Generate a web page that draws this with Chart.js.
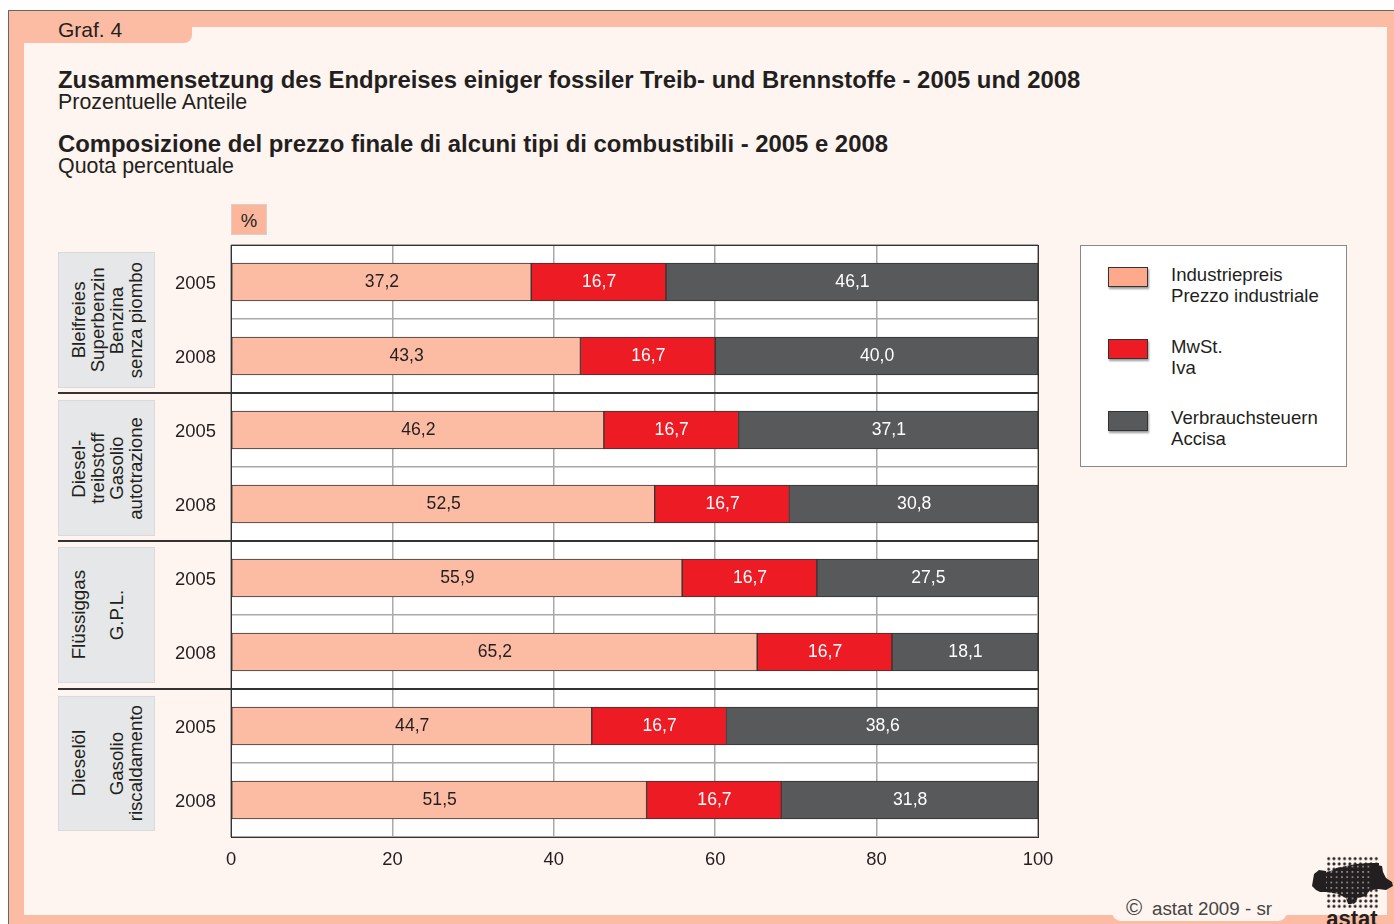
<!DOCTYPE html>
<html><head><meta charset="utf-8">
<script src="https://cdn.jsdelivr.net/npm/chart.js@4"></script>
<style>
html,body{margin:0;padding:0;background:#fff;width:1394px;height:924px;overflow:hidden;font-family:"Liberation Sans",Arial,sans-serif;color:#231f20}
.a{position:absolute}
#frame{left:8px;top:10px;width:1386px;height:914px;background:#fcbca4;border-left:1px solid #666;border-top:1px solid #666;box-sizing:border-box}
#cream{left:24px;top:27px;width:1363px;height:888px;background:#fff5f0}
#tab{left:24px;top:27px;width:168px;height:16px;background:#fcbca4;border-bottom-right-radius:8px}
#crtab{left:1112px;top:910px;width:175px;height:11px;background:#fff5f0;border-radius:0 0 9px 9px}
.t{white-space:nowrap;line-height:1}
.h{font-weight:bold;font-size:23.87px}
.s{font-size:21.4px}
.g{left:58px;width:97px;background:#e6e7e8;border:1px solid #d9dadc;box-sizing:border-box;display:flex;align-items:center;justify-content:center}
.g div{writing-mode:vertical-rl;transform:rotate(180deg);font-size:18.7px;line-height:19px;text-align:center;white-space:pre}
#pct{left:231px;top:204px;width:36px;height:31px;background:#fcb69c;border:1px solid #d9d0cc;box-sizing:border-box;text-align:center;font-size:18.5px;line-height:32px}
#legend{left:1080px;top:245px;width:267px;height:222px;background:#fff;border:1px solid #888;box-sizing:border-box}
.sw{left:1108px;width:40px;height:20px;border:1px solid #333;box-sizing:border-box;box-shadow:1px 2px 2px #999}
.lt{left:1171px;font-size:18.6px;line-height:21px;white-space:pre}
canvas{position:absolute;left:0;top:0}
</style></head>
<body>
<div class="a" id="frame"></div>
<div class="a" id="cream"></div>
<div class="a" id="tab"></div>
<div class="a" id="crtab"></div>
<div class="a t" style="left:58px;top:19px;font-size:21px">Graf. 4</div>
<div class="a t h" style="left:58px;top:68px">Zusammensetzung des Endpreises einiger fossiler Treib- und Brennstoffe - 2005 und 2008</div>
<div class="a t s" style="left:58px;top:92px">Prozentuelle Anteile</div>
<div class="a t h" style="left:58px;top:132px">Composizione del prezzo finale di alcuni tipi di combustibili - 2005 e 2008</div>
<div class="a t s" style="left:58px;top:156px">Quota percentuale</div>
<div class="a" id="pct">%</div>
<div class="a g" style="top:252px;height:136px"><div>Bleifreies
Superbenzin
Benzina
senza piombo</div></div>
<div class="a g" style="top:400px;height:136px"><div>Diesel-
treibstoff
Gasolio
autotrazione</div></div>
<div class="a g" style="top:547px;height:136px"><div>Flüssiggas
 
G.P.L.
 </div></div>
<div class="a g" style="top:696px;height:135px"><div>Dieselöl
 
Gasolio
riscaldamento</div></div>
<div class="a" id="legend"></div>
<div class="a sw" style="top:267px;background:#ffa98c"></div>
<div class="a lt" style="top:264px">Industriepreis
Prezzo industriale</div>
<div class="a sw" style="top:339px;background:#ed1c24"></div>
<div class="a lt" style="top:336px">MwSt.
Iva</div>
<div class="a sw" style="top:411px;background:#58595b"></div>
<div class="a lt" style="top:407px">Verbrauchsteuern
Accisa</div>
<div class="a t" style="left:1126px;top:897px;font-size:22px;color:#444">©</div>
<div class="a t" style="left:1152px;top:900px;font-size:18.8px;color:#444">astat 2009 - sr</div>
<svg class="a" style="left:1310px;top:854px" width="84" height="70" viewBox="0 0 84 70">
<defs>
<pattern id="d" width="5.3" height="5.3" patternUnits="userSpaceOnUse" x="16" y="2"><circle cx="2.65" cy="2.65" r="1.5" fill="#231f20"/></pattern>
<pattern id="b" width="5.3" height="5.3" patternUnits="userSpaceOnUse" x="16" y="2"><circle cx="2.65" cy="2.65" r="3" fill="#231f20"/></pattern>
</defs>
<rect x="16" y="2" width="53" height="53" fill="url(#d)"/>
<path d="M26 14 L46 10 L60 9 L69 9 L69 34 L60 36 L56 42 L48 44 L44 50 L38 50 L36 44 L28 40 L16 38 L16 18 L24 16Z" fill="url(#b)"/>
<path d="M16 17 L9 16 L4 20 L3 26 L2 32 L6 36 L10 38 L16 38Z" fill="#231f20"/>
<path d="M62 10 L72 12 L73 18 L76 24 L82 28 L83 32 L76 36 L68 35 L62 36Z" fill="#231f20"/>
<text x="42" y="72" text-anchor="middle" font-family="Liberation Sans" font-weight="bold" font-size="22" fill="#231f20">astat</text>
</svg>
<canvas id="chart" width="1394" height="924"></canvas>
<script>
const categories = ['2005','2008','2005','2008','2005','2008','2005','2008'];
const industriepreis = [37.2,43.3,46.2,52.5,55.9,65.2,44.7,51.5];
const mwst = [16.7,16.7,16.7,16.7,16.7,16.7,16.7,16.7];
const verbrauchsteuern = [46.1,40.0,37.1,30.8,27.5,18.1,38.6,31.8];
const xTicks = [0,20,40,60,80,100];
const seriesNames = ['Industriepreis','MwSt.','Verbrauchsteuern'];

const FONT = '"Liberation Sans", Arial, sans-serif';
const ink = '#231f20';
const framePlugin = {
  id:'frameAndLabels',
  beforeDraw(c){
    const a=c.chartArea,x=c.ctx;
    x.save();x.fillStyle='#fff';x.fillRect(a.left,a.top,a.width,a.height);x.restore();
  },
  afterDatasetsDraw(c){
    const a=c.chartArea,x=c.ctx,ys=c.scales.y;
    x.save();
    x.strokeStyle='#333';x.lineWidth=1;
    x.strokeRect(a.left+.5,a.top+.5,a.width,a.height);
    [1,3,5].forEach(i=>{
      const yy=Math.round((ys.getPixelForValue(i)+ys.getPixelForValue(i+1))/2);
      x.strokeStyle='#333';x.lineWidth=2;
      x.beginPath();x.moveTo(58,yy);x.lineTo(a.right,yy);x.stroke();
    });
    x.font='17.6px '+FONT;x.textAlign='center';x.textBaseline='middle';
    c.data.datasets.forEach((d,di)=>{
      x.fillStyle=di===0?ink:'#fff';
      c.getDatasetMeta(di).data.forEach((b,i)=>{
        const s=d.data[i].toFixed(1).replace('.',',');
        x.fillText(s,(b.base+b.x)/2+.5,b.y);
      });
    });
    x.restore();
  }
};
const ds=(label,data,color)=>({label,data,backgroundColor:color,borderColor:'#333',borderWidth:1,borderSkipped:false,barThickness:38,stack:'s'});
new Chart(document.getElementById('chart'),{
  type:'bar',
  plugins:[framePlugin],
  data:{labels:categories,datasets:[
    ds(seriesNames[0],industriepreis,'#fcbca4'),
    ds(seriesNames[1],mwst,'#ed1c24'),
    ds(seriesNames[2],verbrauchsteuern,'#58595b')
  ]},
  options:{
    indexAxis:'y',responsive:false,animation:false,
    layout:{padding:{left:0,top:245,right:356,bottom:27}},
    plugins:{legend:{display:false},tooltip:{enabled:false},title:{display:false}},
    scales:{
      x:{type:'linear',min:0,max:100,stacked:true,
        afterFit(s){s.height=60;},
        afterBuildTicks(s){s.ticks=xTicks.map(v=>({value:v}));},
        grid:{color:'#aaa',lineWidth:1.5,drawTicks:false},
        border:{display:false},
        ticks:{color:ink,padding:12,font:{family:FONT,size:18.4},maxRotation:0,callback:v=>String(v)}},
      y:{type:'category',stacked:true,offset:true,
        afterFit(s){s.width=231;},
        grid:{offset:true,color:'#aaa',lineWidth:1.5,drawTicks:false},
        border:{display:false},
        ticks:{color:ink,padding:15,labelOffset:1.5,font:{family:FONT,size:18.4}}}
    }
  }
});
</script>
</body></html>
